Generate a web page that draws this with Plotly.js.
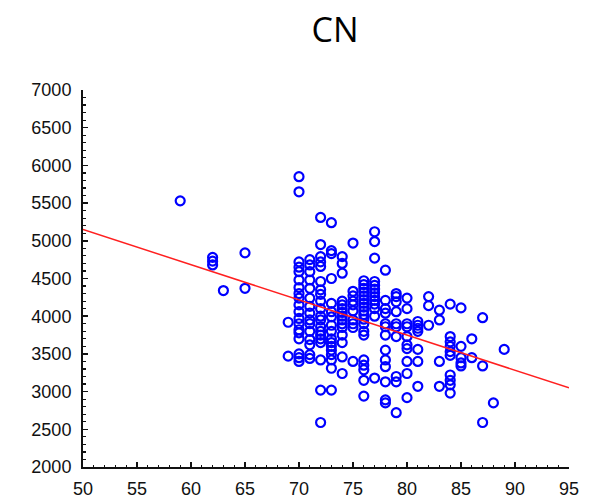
<!DOCTYPE html>
<html>
<head>
<meta charset="utf-8">
<script src="https://cdn.plot.ly/plotly-3.0.1.min.js"></script>
<style>html,body{margin:0;padding:0;background:#fff;}#chart{width:592px;height:504px;}</style>
</head>
<body>
<div id="chart"></div>
<script>
const xVals = [
  59,
  62, 62, 62,
  63,
  65, 65,
  69, 69,
  70,70,70,70,70,70,70,70,70,70,70,70,70,70,70,70,70,70,70,
  71,71,71,71,71,71,71,71,71,71,71,71,71,71,71,
  72,72,72,72,72,72,72,72,72,72,72,72,72,72,72,72,72,72,72,72,
  73,73,73,73,73,73,73,73,73,73,73,73,73,73,73,73,73,
  74,74,74,74,74,74,74,74,74,74,74,74,74,74,74,
  75,75,75,75,75,75,75,75,75,75,
  76,76,76,76,76,76,76,76,76,76,76,76,76,76,76,76,76,76,76,
  77,77,77,77,77,77,77,77,77,77,77,77,77,
  78,78,78,78,78,78,78,78,78,78,78,78,78,
  79,79,79,79,79,79,79,79,79,79,
  80,80,80,80,80,80,80,80,80,80,
  81,81,81,81,81,81,81,
  82,82,82,
  83,83,83,83,
  84,84,84,84,84,84,84,84,84,84,
  85,85,85,85,85,
  86,86,
  87,87,87,
  88,
  89
];
const yVals = [
  5530,
  4780, 4730, 4680,
  4340,
  4840, 4370,
  3920, 3470,
  5850,5650,4720,4650,4590,4480,4380,4300,4240,4150,4060,3970,3900,3820,3780,3700,3500,3450,3400,
  4750,4680,4590,4480,4370,4240,4130,4040,3950,3900,3800,3690,3620,3490,3440,
  5310,4950,4790,4720,4660,4460,4350,4290,4200,4100,4000,3950,3860,3800,3750,3700,3650,3420,3020,2590,
  5240,4870,4830,4500,4170,4060,3990,3880,3800,3700,3650,3600,3550,3490,3420,3310,3020,
  4790,4700,4570,4200,4150,4100,4050,4000,3950,3900,3850,3750,3650,3460,3240,
  4970,4330,4270,4200,4150,4070,3950,3900,3850,3400,
  4470,4420,4370,4320,4270,4220,4170,4120,4070,4020,3960,3900,3800,3750,3420,3350,3290,3150,2940,
  5120,4990,4770,4460,4410,4360,4310,4260,4210,4160,4100,4000,3180,
  4610,4210,4100,4040,3900,3860,3750,3550,3420,3330,3130,2890,2850,
  4300,4260,4190,4060,3900,3860,3730,3200,3130,2720,
  4240,4100,3900,3860,3730,3620,3570,3400,3240,2920,
  3930,3880,3840,3800,3560,3400,3070,
  4260,4140,3880,
  4080,3950,3400,3070,
  4160,3730,3660,3600,3530,3480,3220,3150,3090,2980,
  4110,3600,3450,3380,3340,
  3700,3450,
  3980,3340,2590,
  2850,
  3560
];
// Regression line endpoints
const fitX = [50, 95];
const fitY = [5150, 3050];

const xTicks = [50, 55, 60, 65, 70, 75, 80, 85, 90, 95];
const yTicks = [2000, 2500, 3000, 3500, 4000, 4500, 5000, 5500, 6000, 6500, 7000];

const tickFont = {family: '"Liberation Sans", Arial, sans-serif', size: 18, color: '#111'};

const traces = [
  {
    type: 'scatter', mode: 'markers', x: xVals, y: yVals,
    marker: {symbol: 'circle-open', size: 9, color: '#0000ff', line: {width: 2.2, color: '#0000ff'}},
    hoverinfo: 'x+y', showlegend: false
  },
  {
    type: 'scatter', mode: 'lines', x: fitX, y: fitY,
    line: {color: '#ff2020', width: 1.5}, showlegend: false
  }
];

const layout = {
  width: 592, height: 504,
  paper_bgcolor: '#ffffff', plot_bgcolor: '#ffffff',
  margin: {l: 83, r: 23, t: 90, b: 37, pad: 0},
  title: {
    text: 'CN', xref: 'container', x: 0.566, xanchor: 'center',
    yref: 'container', y: 0.94, yanchor: 'middle',
    font: {family: '"Open Sans", "Noto Sans", sans-serif', size: 34, color: '#000'}
  },
  xaxis: {
    range: [50, 95], tickvals: xTicks, ticktext: xTicks.map(String),
    showgrid: false, zeroline: false, showline: true, linecolor: '#111', linewidth: 2,
    ticks: 'inside', ticklen: 5, tickwidth: 1.5, tickcolor: '#111',
    minor: {dtick: 1, ticks: 'inside', ticklen: 2.5, tickwidth: 1.2, tickcolor: '#111', showgrid: false},
    tickfont: tickFont, ticklabelstandoff: 4, fixedrange: true
  },
  yaxis: {
    range: [2000, 7000], tickvals: yTicks, ticktext: yTicks.map(String),
    showgrid: false, zeroline: false, showline: true, linecolor: '#111', linewidth: 2,
    ticks: 'inside', ticklen: 5, tickwidth: 1.5, tickcolor: '#111',
    minor: {dtick: 100, ticks: 'inside', ticklen: 2.5, tickwidth: 1.2, tickcolor: '#111', showgrid: false},
    tickfont: tickFont, ticklabelstandoff: 6, fixedrange: true
  }
};

Plotly.newPlot('chart', traces, layout, {displayModeBar: false, staticPlot: true});
</script>
</body>
</html>
